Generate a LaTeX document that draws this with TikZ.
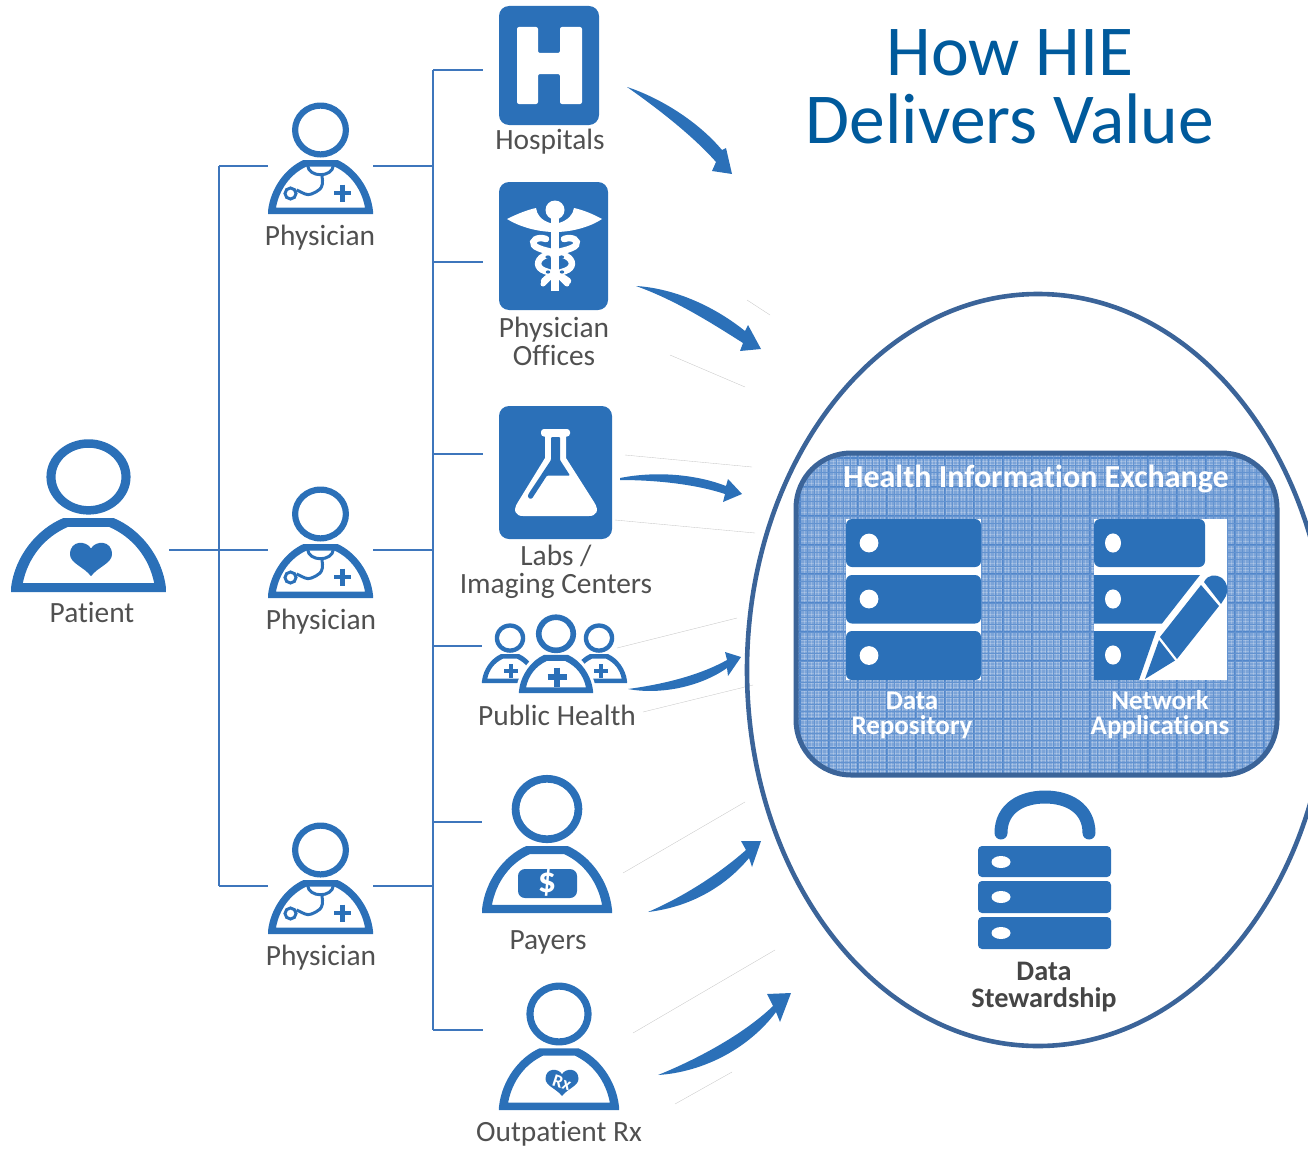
\documentclass[tikz,border=0pt]{standalone}
\usepackage{fontspec}
\setmainfont[Ligatures=NoCommon]{Carlito}
\definecolor{iconblue}{HTML}{2B70B8}
\definecolor{linkblue}{HTML}{3E76BC}
\definecolor{ringblue}{HTML}{3B6499}
\definecolor{titleblue}{HTML}{005A9C}
\definecolor{labelgray}{HTML}{505050}
\definecolor{darkgray2}{HTML}{454545}
\definecolor{hiebase}{HTML}{7CA4D8}
\definecolor{hiegrid}{HTML}{5287CB}
\tikzset{
  x=1pt,y=-1pt,
  conn/.style={draw=linkblue,line width=2.8pt},
  ghost/.style={draw=black!22,line width=0.35pt},
  iconbox/.style={inner sep=0pt,outer sep=0pt,minimum width=#1,draw=none,fill=none},
  lbl/.style={font=\fontsize{29.4}{28}\selectfont,text=labelgray,inner sep=0pt,anchor=base,align=center},
  wlbl/.style={font=\fontsize{27}{25.5}\selectfont\bfseries,text=white,inner sep=0pt,anchor=base,align=center},
  swoosh/.style={fill=iconblue,draw=none},
  personicon/.pic={
    \fill[iconblue,even odd rule] (0,-84) ellipse [x radius=28.5,y radius=27.5] (0,-84) ellipse [x radius=22.3,y radius=21.3];
    \fill[iconblue,even odd rule]
      (-52.5,0) -- (-52.5,-3) .. controls (-50,-26) and (-35,-46) .. (-17,-54) -- (17,-54) .. controls (35,-46) and (50,-26) .. (52.5,-3) -- (52.5,0) -- cycle
      (-44.5,-6.5) .. controls (-41,-25) and (-30,-40) .. (-14,-47.5) -- (14,-47.5) .. controls (30,-40) and (41,-25) .. (44.5,-6.5) -- cycle;
  },
  thickperson/.pic={
    \fill[iconblue,even odd rule] (0,-84) ellipse [x radius=28.5,y radius=27.5] (0,-84) ellipse [x radius=20.5,y radius=19.5];
    \fill[iconblue,even odd rule]
      (-52.5,0) -- (-52.5,-3) .. controls (-50,-26) and (-35,-46) .. (-17,-54) -- (17,-54) .. controls (35,-46) and (50,-26) .. (52.5,-3) -- (52.5,0) -- cycle
      (-42.5,-8) .. controls (-39,-25) and (-29,-38) .. (-13,-45.5) -- (13,-45.5) .. controls (29,-38) and (39,-25) .. (42.5,-8) -- cycle;
  },
  bodyhalo/.pic={
    \fill[white] (-57,2) -- (-57,-3) .. controls (-54,-28) and (-38,-50) .. (-18,-59) -- (18,-59) .. controls (38,-50) and (54,-28) .. (57,-3) -- (57,2) -- cycle;
  },
  doctoricon/.pic={
    \pic {personicon};
    \draw[iconblue,line width=3pt] (-13,-49) .. controls (-12,-36) and (12,-36) .. (13,-49);
    \draw[iconblue,line width=3pt] (1.5,-38) .. controls (4,-24) and (-3,-23) .. (-9,-20) .. controls (-14,-18) and (-17,-21) .. (-24,-24);
    \draw[iconblue,line width=3pt] (-30,-20.5) circle [radius=5.5];
    \draw[iconblue,line width=4.2pt] (13.5,-21) -- (30.5,-21) (22,-29.5) -- (22,-12.5);
  },
  hearticon/.pic={
    \fill[iconblue] (0,-0.5) .. controls (0.2,-0.88) and (1,-0.92) .. (1,-0.22) .. controls (1,0.2) and (0.3,0.4) .. (0,0.82) .. controls (-0.3,0.4) and (-1,0.2) .. (-1,-0.22) .. controls (-1,-0.92) and (-0.2,-0.88) .. (0,-0.5) -- cycle;
  },
  serverbar/.style={fill=iconblue,rounded corners=6pt,draw=none},
}
\begin{document}
\begin{tikzpicture}
\useasboundingbox (0,0) rectangle (1308,1148);
\clip (0,0) rectangle (1308,1148);

% invisible extents of the icons, used as connector ends
\node[iconbox=155pt,minimum height=154pt] (patient) at (88.5,515) {};
\node[iconbox=105pt,minimum height=112pt] (phys1) at (320.5,158) {};
\node[iconbox=105pt,minimum height=112pt] (phys2) at (320.5,542) {};
\node[iconbox=105pt,minimum height=112pt] (phys3) at (320.5,878) {};
\node[iconbox=100pt,minimum height=119pt] (hosp) at (549,65.5) {};
\node[iconbox=109pt,minimum height=128pt] (office) at (553.5,246) {};
\node[iconbox=113pt,minimum height=134pt] (labs) at (555.5,473) {};
\node[iconbox=144pt,minimum height=78pt] (public) at (554,654) {};
\node[iconbox=130pt,minimum height=139pt] (payers) at (547,843.5) {};
\node[iconbox=120pt,minimum height=128pt] (rx) at (559,1046) {};

% connector tree
\coordinate (a1) at (219,166);
\coordinate (a2) at (219,550);
\coordinate (a3) at (219,886);
\coordinate (b1) at (433,166);
\coordinate (b2) at (433,550);
\coordinate (b3) at (433,886);
\coordinate (t1) at (433,70);
\coordinate (t2) at (433,262);
\coordinate (t3) at (433,454);
\coordinate (t4) at (433,646);
\coordinate (t5) at (433,822);
\coordinate (t6) at (433,1030);
\draw[conn,shorten <=3pt] (patient.east |- a2) -- (phys2.west |- a2);
\draw[conn] (a1) -- (a3);
\draw[conn] (a1) -- (phys1.west |- a1);
\draw[conn] (a3) -- (phys3.west |- a3);
\draw[conn] (phys1.east |- b1) -- (b1);
\draw[conn] (phys2.east |- b2) -- (b2);
\draw[conn] (phys3.east |- b3) -- (b3);
\draw[conn] (t1) -- (t6);
\draw[conn,shorten >=16pt] (t1) -- (hosp.west |- t1);
\draw[conn,shorten >=16pt] (t2) -- (office.west |- t2);
\draw[conn,shorten >=16pt] (t3) -- (labs.west |- t3);
\draw[conn] (t4) -- (public.west |- t4);
\draw[conn] (t5) -- (payers.west |- t5);
\draw[conn,shorten >=16pt] (t6) -- (rx.west |- t6);

% people
\pic[xscale=1.476,yscale=1.37] at (88.5,592) {personicon};
\pic[scale=21] at (91,559) {hearticon};
\pic at (320.5,214) {doctoricon};
\pic at (320.5,598) {doctoricon};
\pic at (320.5,934) {doctoricon};

% hospital
\fill[iconblue,rounded corners=10pt] (499,6) rectangle (599,125);
\fill[white,rounded corners=2pt] (517,27) -- (538,27) -- (538,53) -- (560,53) -- (560,27) -- (582,27) -- (582,104) -- (560,104) -- (560,74) -- (538,74) -- (538,104) -- (517,104) -- cycle;

% physician offices (caduceus)
\fill[iconblue,rounded corners=10pt] (499,182) rectangle (608,310);
\fill[white] (555,210) circle [radius=9.5];
\fill[white] (550.5,210) rectangle (559,291);
\fill[white] (507,219) .. controls (517,214) and (527,210) .. (536,208) .. controls (537,215) and (541,220) .. (550,223) -- (559,223) .. controls (568,220) and (573,215) .. (574,208) .. controls (583,210) and (593,214) .. (602,219) .. controls (590,227) and (572,232) .. (555,232) .. controls (538,232) and (520,227) .. (507,219) -- cycle;
\draw[white,line width=6.5pt,line cap=round] (546,239) .. controls (537,236) and (531,241) .. (534,245) .. controls (537,250) and (556,252) .. (566,256) .. controls (574,260) and (574,268) .. (565,271) .. controls (556,274) and (548,276) .. (544,281);
\draw[white,line width=6.5pt,line cap=round] (564,239) .. controls (573,236) and (579,241) .. (576,245) .. controls (573,250) and (554,252) .. (544,256) .. controls (536,260) and (536,268) .. (545,271) .. controls (554,274) and (562,276) .. (568,281);
\draw[white,line width=5pt,line cap=round] (555,272) -- (543,284) (555,272) -- (567,284);
\fill[iconblue] (548,257) ellipse [x radius=2.6,y radius=1.6] (561.5,257) ellipse [x radius=2.6,y radius=1.6] (548,272) ellipse [x radius=2.2,y radius=1.6] (562,272) ellipse [x radius=2.2,y radius=1.6];

% labs (flask)
\fill[iconblue,rounded corners=10pt] (499,406) rectangle (612,539);
\fill[white,rounded corners=3pt] (541,429) rectangle (570,436.5);
\fill[white] (545,432) -- (566,432) -- (566,458) -- (594,502) .. controls (600,511) and (596,516) .. (589,516) -- (523,516) .. controls (516,516) and (512,511) .. (518,502) -- (545,458) -- cycle;
\fill[iconblue,rounded corners=1pt] (551,437) -- (560,437) -- (560,460) -- (570,475.5) -- (547,475.5) -- (533,497) .. controls (531,500) and (527,498) .. (528.5,494) -- (551,460) -- cycle;

% public health group
\pic[scale=0.535] at (510,683) {thickperson};
\pic[scale=0.535] at (599,683) {thickperson};
\pic[scale=0.705] at (556,693) {bodyhalo};
\pic[scale=0.705] at (556,693) {thickperson};
\draw[iconblue,line width=5.5pt] (547.5,677) -- (566.5,677) (557,667.5) -- (557,686.5);
\draw[iconblue,line width=4.4pt] (504,671) -- (518,671) (511,664) -- (511,678);
\draw[iconblue,line width=4.4pt] (594,671) -- (608,671) (601,664) -- (601,678);

% payers
\pic[scale=1.238] at (547,913) {personicon};
\fill[iconblue,rounded corners=7pt] (518,869) rectangle (577,898);
\node[inner sep=0pt,text=white,font=\fontsize{36}{36}\selectfont\bfseries] (dollar) at (547,883) {\$};

% outpatient
\pic[scale=1.143] at (559,1110) {personicon};
\pic[scale=16.5] at (562,1082.5) {hearticon};
\node[inner sep=0pt,text=white,font=\fontsize{18}{18}\selectfont\bfseries,rotate=-18] (rxmark) at (562,1083) {Rx};

% faint edges
\draw[ghost] (617,648) -- (737,618);
\draw[ghost] (643,712) -- (753,685);
\draw[ghost] (623,873) -- (745,802);
\draw[ghost] (633,1033) -- (775,950);
\draw[ghost] (675,1104) -- (732,1072);
\draw[ghost] (625,455) -- (752,467);
\draw[ghost] (615,520) -- (755,533);
\draw[ghost] (670,355) -- (745,387);
\draw[ghost] (747,300) -- (770,315);

% arrows
\fill[swoosh] (627,87) .. controls (655,96) and (695,118) .. (722,150) -- (726,148) -- (732,174) -- (712,171) -- (716,162) .. controls (695,138) and (660,110) .. (627,87) -- cycle;
\fill[swoosh] (636,286) .. controls (670,288) and (710,303) .. (745,331) -- (748,325) -- (761,349) -- (740,351) -- (743,343) .. controls (710,322) and (675,300) .. (636,286) -- cycle;
\fill[swoosh] (620,478) .. controls (655,471) and (695,474) .. (726,486) -- (728,479) -- (742,494) -- (723,502) -- (725,494) .. controls (695,484) and (655,480) .. (620,480) -- cycle;
\fill[swoosh] (628,689) .. controls (665,684) and (700,675) .. (727,660) -- (725,652) -- (741,657) -- (728,676) -- (727,668) .. controls (700,687) and (660,695) .. (628,689) -- cycle;
\fill[swoosh] (648,912) .. controls (685,896) and (720,873) .. (746,850) -- (741,841) -- (761,841) -- (752,867) -- (749,858) .. controls (725,887) and (690,907) .. (648,912) -- cycle;
\fill[swoosh] (658,1075) .. controls (700,1058) and (745,1033) .. (773,1006) -- (767,994) -- (791,993) -- (780,1022) -- (776,1012) .. controls (750,1047) and (705,1072) .. (658,1075) -- cycle;

% big ellipse
\draw[ringblue,line width=4.6pt] (1038,670) ellipse [x radius=291,y radius=376];

% HIE box
\begin{scope}
  \clip[rounded corners=55pt] (796,453) rectangle (1277,775);
  \fill[hiebase] (796,453) rectangle (1277,775);
  \foreach \gx in {0,...,132} {\draw[white,opacity=0.22,line width=1pt] (797+3.65*\gx,453) -- (797+3.65*\gx,775);}
  \foreach \gy in {0,...,90} {\draw[white,opacity=0.22,line width=1pt] (796,454+3.65*\gy) -- (1277,454+3.65*\gy);}
  \foreach \gx in {0,...,33} {\draw[hiegrid,line width=1.6pt] (800+14.5*\gx,453) -- (800+14.5*\gx,775);}
  \foreach \gy in {0,...,22} {\draw[hiegrid,line width=1.6pt] (796,458+14.5*\gy) -- (1277,458+14.5*\gy);}
  \foreach \gx in {0,...,66} {\draw[hiegrid!60!hiebase,line width=0.8pt] (807.25+7.25*\gx,453) -- (807.25+7.25*\gx,775);}
  \foreach \gy in {0,...,44} {\draw[hiegrid!60!hiebase,line width=0.8pt] (796,465.25+7.25*\gy) -- (1277,465.25+7.25*\gy);}
\end{scope}
\draw[ringblue,line width=5pt,rounded corners=55pt] (796,453) rectangle (1277,775);

% data repository icon
\fill[white] (846,519) rectangle (981,680);
\fill[serverbar] (846,519) rectangle (981,567);
\fill[serverbar] (846,575) rectangle (981,623.5);
\fill[serverbar] (846,631) rectangle (981,680);
\fill[white] (869,543) circle [radius=9.4] (869,599) circle [radius=9.4] (869,655.5) circle [radius=9.4];

% network applications icon
\fill[white] (1094,519) rectangle (1227,680);
\fill[iconblue,rounded corners=6pt] (1094,519) rectangle (1205,567);
\fill[iconblue] (1094,575) -- (1200,575) -- (1162,623.5) -- (1094,623.5) -- cycle;
\fill[iconblue] (1094,631) -- (1156,631) -- (1139,680) -- (1094,680) -- cycle;
\fill[white] (1113,543) ellipse [x radius=8,y radius=9.6] (1113,599) ellipse [x radius=8,y radius=9.6] (1113,655) ellipse [x radius=8,y radius=9.6];
\fill[iconblue] (1204,582) .. controls (1208,574) and (1216,574) .. (1222,578) .. controls (1227,582) and (1229,590) .. (1226,596) -- (1221,604) -- cycle;
\fill[iconblue] (1201,585) -- (1219,606) -- (1177,659) -- (1160,637) -- cycle;
\fill[iconblue] (1159,640) -- (1175,660.5) -- (1145,679) -- cycle;

% lock
\draw[iconblue,line width=13pt,line cap=round] (1001,833) .. controls (1001,808) and (1022,797) .. (1045,797) .. controls (1068,797) and (1089,808) .. (1089,833);
\fill[serverbar,rounded corners=4pt] (978,846) rectangle (1111,877);
\fill[serverbar,rounded corners=4pt] (978,881) rectangle (1111,913);
\fill[serverbar,rounded corners=4pt] (978,917) rectangle (1111,949);
\fill[white] (1001,862) ellipse [x radius=9.5,y radius=6] (1001,897) ellipse [x radius=9.5,y radius=6] (1001,933) ellipse [x radius=9.5,y radius=6];

% labels
\node[lbl] (tpatient) at (92,622) {Patient};
\node[lbl] (tphys1) at (320,245) {Physician};
\node[lbl] (tphys2) at (321,629) {Physician};
\node[lbl] (tphys3) at (321,965) {Physician};
\node[lbl] (thosp) at (550,149) {Hospitals};
\node[lbl] (toffice) at (554,365) {Physician\\Offices};
\node[lbl] (tlabs) at (556,593) {Labs /\\Imaging Centers};
\node[lbl] (tpublic) at (557,725) {Public Health};
\node[lbl] (tpayers) at (548,949) {Payers};
\node[lbl] (trx) at (559,1141) {Outpatient Rx};
\node[inner sep=0pt,anchor=base,align=center,text=titleblue,font=\fontsize{71.6}{68}\selectfont] (title) at (1010,143) {How HIE\\Delivers Value};
\node[wlbl,font=\fontsize{32}{30}\selectfont\bfseries] (thie) at (1036,487) {Health Information Exchange};
\node[wlbl] (trepo) at (912,734.5) {Data\\Repository};
\node[wlbl] (tnet) at (1160,734.5) {Network\\Applications};
\node[inner sep=0pt,anchor=base,align=center,text=darkgray2,font=\fontsize{28.3}{27}\selectfont\bfseries] (tsteward) at (1044,1007) {Data\\Stewardship};
\end{tikzpicture}
\end{document}
